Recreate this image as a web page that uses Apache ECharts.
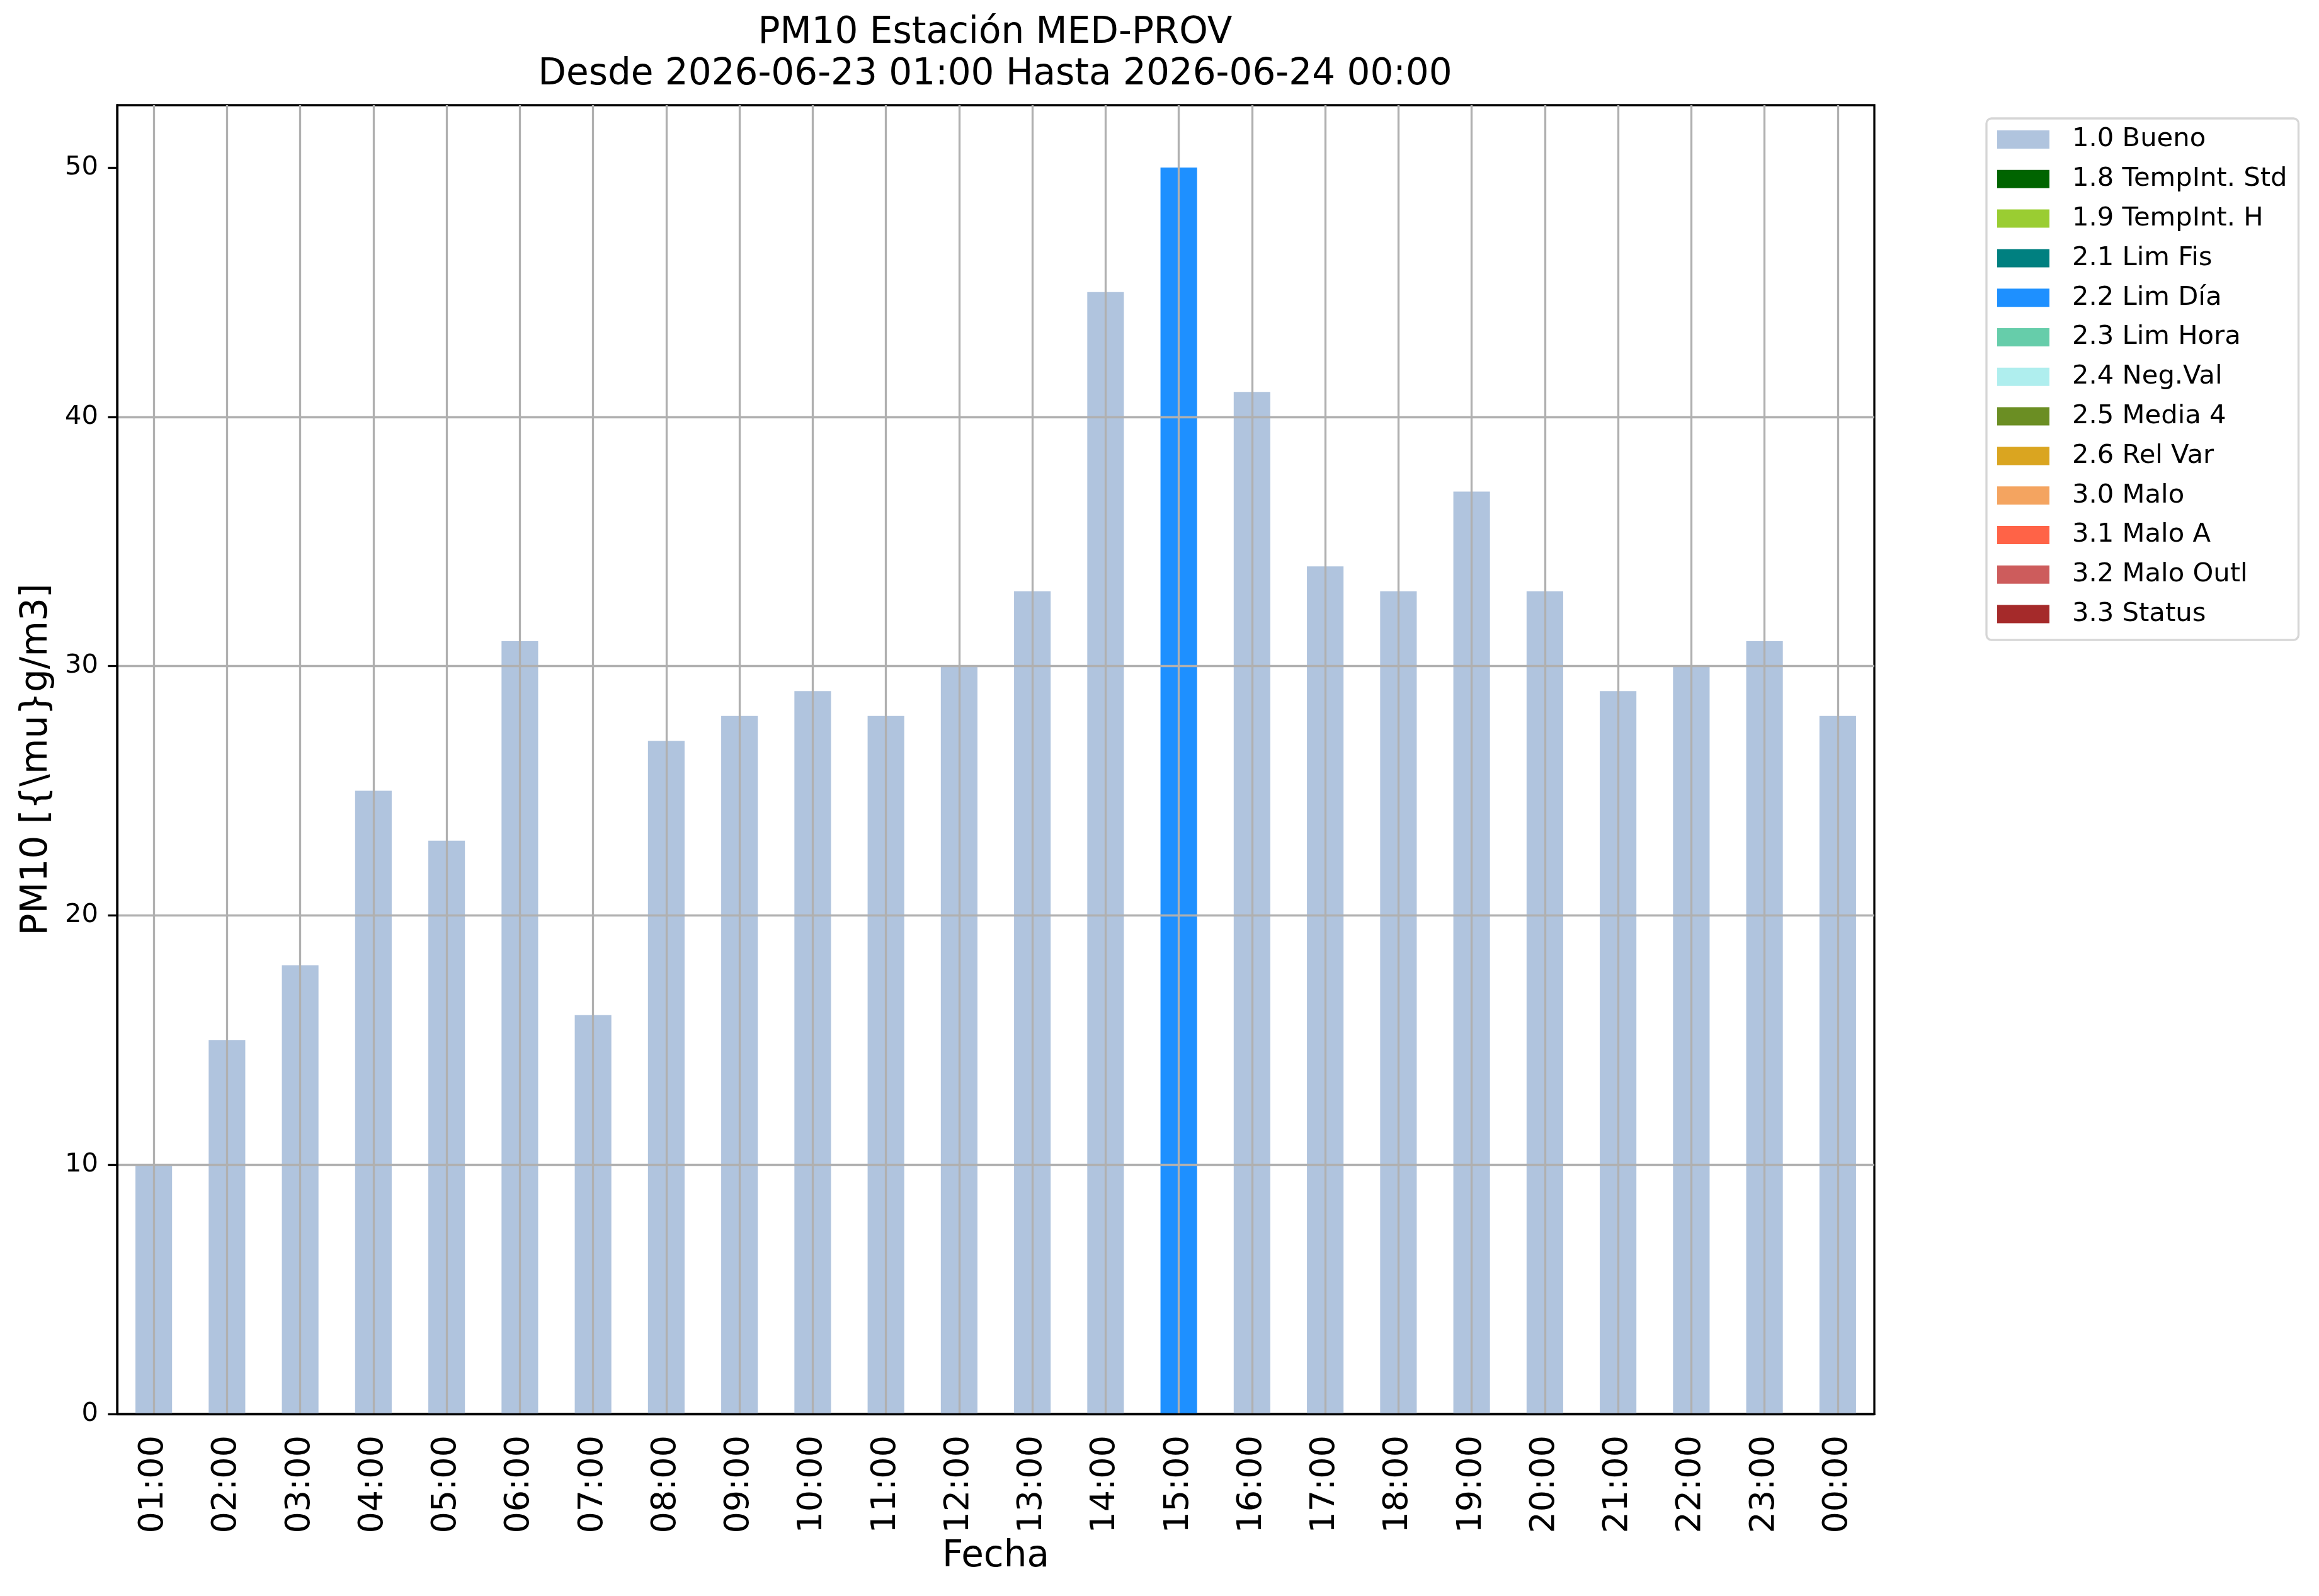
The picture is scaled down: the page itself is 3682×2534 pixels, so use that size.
<!DOCTYPE html>
<html>
<head>
<meta charset="utf-8">
<script src="https://cdn.jsdelivr.net/npm/echarts@6/dist/echarts.min.js"></script>
<style>
  html, body { margin: 0; padding: 0; background: #fff; }
  #chart { width: 3682px; height: 2534px; }
</style>
</head>
<body>
<div id="chart"></div>
<script>
const hours = ['01:00', '02:00', '03:00', '04:00', '05:00', '06:00', '07:00', '08:00',
  '09:00', '10:00', '11:00', '12:00', '13:00', '14:00', '15:00', '16:00',
  '17:00', '18:00', '19:00', '20:00', '21:00', '22:00', '23:00', '00:00'];

const pm10 = [10, 15, 18, 25, 23, 31, 16, 27, 28, 29, 28, 30,
  33, 45, 50, 41, 34, 33, 37, 33, 29, 30, 31, 28];

// validation flag for each hour
const hourFlags = ['1.0 Bueno', '1.0 Bueno', '1.0 Bueno', '1.0 Bueno', '1.0 Bueno', '1.0 Bueno',
  '1.0 Bueno', '1.0 Bueno', '1.0 Bueno', '1.0 Bueno', '1.0 Bueno', '1.0 Bueno',
  '1.0 Bueno', '1.0 Bueno', '2.2 Lim Día', '1.0 Bueno', '1.0 Bueno', '1.0 Bueno',
  '1.0 Bueno', '1.0 Bueno', '1.0 Bueno', '1.0 Bueno', '1.0 Bueno', '1.0 Bueno'];

const flagNames = ['1.0 Bueno', '1.8 TempInt. Std', '1.9 TempInt. H', '2.1 Lim Fis',
  '2.2 Lim Día', '2.3 Lim Hora', '2.4 Neg.Val', '2.5 Media 4', '2.6 Rel Var',
  '3.0 Malo', '3.1 Malo A', '3.2 Malo Outl', '3.3 Status'];

const flagColors = ['#b0c4de', '#006400', '#9acd32', '#008080', '#1e90ff', '#66cdaa',
  '#afeeee', '#6b8e23', '#daa520', '#f4a460', '#ff6347', '#cd5c5c', '#a52a2a'];

const yTicks = [0, 10, 20, 30, 40, 50];

const FONT = 'DejaVu Sans';
const GRID = '#b0b0b0';

const chart = echarts.init(document.getElementById('chart'));

const series = flagNames.map((name, k) => ({
  name: name,
  type: 'bar',
  stack: 'pm10',
  barWidth: '50%',
  itemStyle: { color: flagColors[k] },
  data: pm10.map((v, i) => hourFlags[i] === name ? v : '-')
}));

const option = {
  animation: false,
  backgroundColor: '#fff',
  title: {
    text: 'PM10 Estación MED-PROV\nDesde 2026-06-23 01:00 Hasta 2026-06-24 00:00',
    left: 1580,
    top: 20,
    padding: 0,
    textAlign: 'center',
    textStyle: {
      fontFamily: FONT,
      fontSize: 58,
      fontWeight: 'normal',
      lineHeight: 66,
      color: '#000'
    }
  },
  legend: {
    orient: 'vertical',
    left: 3154,
    top: 188,
    padding: [12.5, 18, 20, 17],
    itemWidth: 83,
    itemHeight: 29,
    itemGap: 20.8,
    icon: 'rect',
    borderColor: '#d6d6d6',
    borderWidth: 3.3,
    borderRadius: 8,
    selectedMode: false,
    data: flagNames,
    textStyle: {
      fontFamily: FONT,
      fontSize: 41.7,
      color: '#000',
      padding: [0, 0, 0, 31]
    }
  },
  grid: {
    left: 186,
    top: 167,
    width: 2790,
    height: 2078,
    show: true,
    borderColor: '#000',
    borderWidth: 3.3,
    backgroundColor: '#fff'
  },
  xAxis: {
    type: 'category',
    data: hours,
    z: 6,
    name: 'Fecha',
    nameLocation: 'middle',
    nameGap: 196,
    nameTextStyle: { fontFamily: FONT, fontSize: 58, color: '#000' },
    axisLine: { show: true, lineStyle: { color: '#000', width: 3.3 } },
    axisTick: {
      alignWithLabel: true,
      length: 14.6,
      lineStyle: { color: '#000', width: 3.3 }
    },
    axisLabel: {
      interval: 0,
      rotate: 90,
      margin: 34,
      fontFamily: FONT,
      fontSize: 54,
      color: '#000'
    },
    splitLine: {
      show: true,
      alignWithLabel: true,
      interval: 0,
      lineStyle: { color: GRID, width: 3.3 }
    }
  },
  yAxis: {
    type: 'value',
    min: 0,
    max: 52.5,
    interval: 10,
    z: 5,
    name: 'PM10 [{\\mu}g/m3]',
    nameLocation: 'middle',
    nameGap: 98,
    nameTextStyle: { fontFamily: FONT, fontSize: 58, color: '#000' },
    axisLine: { show: true, lineStyle: { color: '#000', width: 3.3 } },
    axisTick: {
      show: true,
      length: 14.6,
      customValues: yTicks,
      lineStyle: { color: '#000', width: 3.3 }
    },
    axisLabel: {
      margin: 30,
      customValues: yTicks,
      fontFamily: FONT,
      fontSize: 41.7,
      color: '#000'
    },
    splitLine: {
      show: true,
      showMinLine: false,
      showMaxLine: false,
      lineStyle: { color: GRID, width: 3.3 }
    }
  },
  series: series
};

chart.setOption(option);
</script>
</body>
</html>
